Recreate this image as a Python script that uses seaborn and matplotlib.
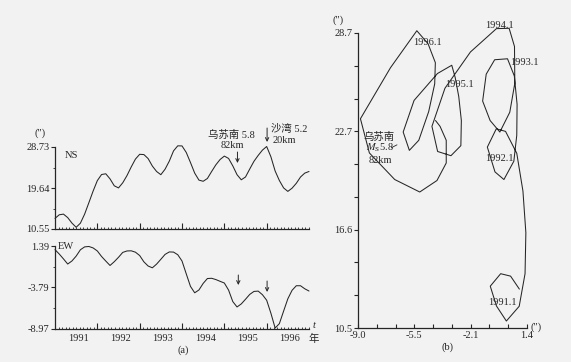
import numpy as np
import matplotlib
matplotlib.use('Agg')
import matplotlib.pyplot as plt
import seaborn as sns
from matplotlib.ticker import MultipleLocator, AutoMinorLocator

# time grid (years) and the two tilt components
years = np.round(np.arange(1991.0, 1997.01, 0.1), 1)
ns = [12.90, 13.70, 13.85, 13.08, 11.86, 10.93, 11.84, 13.85, 16.38, 18.95,
      21.28, 22.63, 22.79, 21.66, 20.13, 19.66, 20.79, 22.39, 24.30, 26.05,
      27.11, 27.05, 26.16, 24.50, 23.30, 22.59, 23.81, 25.60, 27.87, 28.99,
      28.97, 27.53, 25.29, 22.94, 21.39, 21.13, 21.75, 23.30, 24.78, 25.96,
      26.71, 26.20, 24.54, 22.59, 21.46, 22.08, 23.85, 25.56, 26.87, 28.04,
      28.84, 26.56, 23.41, 21.30, 19.66, 18.89, 19.60, 20.68, 22.08, 22.94, 23.30]
ew = [0.93, 0.39, -0.22, -0.86, -0.48, 0.13, 0.92, 1.28, 1.33, 1.15,
      0.77, 0.08, -0.49, -1.04, -0.57, -0.02, 0.59, 0.77, 0.79, 0.62,
      0.20, -0.59, -1.11, -1.33, -0.87, -0.27, 0.34, 0.65, 0.63, 0.30,
      -0.48, -2.08, -3.65, -4.45, -4.10, -3.28, -2.67, -2.64, -2.80, -3.02,
      -3.23, -4.11, -5.55, -6.22, -5.84, -5.26, -4.65, -4.28, -4.24, -4.69,
      -5.38, -7.00, -8.85, -8.30, -6.74, -5.20, -4.14, -3.57, -3.57, -3.95, -4.23]

year_labels = [1991, 1992, 1993, 1994, 1995, 1996]
ns_ticks = [10.55, 19.64, 28.73]
ew_ticks = [-8.97, -3.79, 1.39]
b_xticks = np.linspace(-9.0, 1.4, 10)
b_xlabels = ['-9.0', '', '', '-5.5', '', '', '-2.1', '', '', '1.4']
b_yticks = np.linspace(10.5, 28.7, 10)
b_ylabels = ['10.5', '', '', '16.6', '', '', '22.7', '', '', '28.7']

# labels along the trajectory in (b): (text, EW, NS)
traj_labels = [('1996.1', -5.62, 28.14), ('1995.1', -3.65, 25.55),
               ('1994.1', -1.18, 29.19), ('1993.1', 0.35, 26.91),
               ('1992.1', -1.18, 20.93), ('1991.1', -1.00, 12.10)]

sns.set_style('ticks')
plt.rcParams['font.family'] = ['Liberation Serif', 'Noto Sans CJK SC']
plt.rcParams['font.size'] = 7.5
plt.rcParams['mathtext.fontset'] = 'stix'

bg = '#f2f2f2'
ink = '#262626'
W, H = 571, 362

fig = plt.figure(figsize=(W / 100, H / 100), dpi=100, facecolor=bg)


def px(x, y):
    return x / W, 1 - y / H


ax_ns = fig.add_axes([55 / W, 1 - 229 / H, 254 / W, 82 / H])
ax_ew = fig.add_axes([55 / W, 1 - 329 / H, 254 / W, 83 / H])
ax_b = fig.add_axes([358 / W, 1 - 328 / H, 169 / W, 295 / H])

for ax in (ax_ns, ax_ew, ax_b):
    ax.set_facecolor(bg)
    sns.despine(ax=ax)
    for s in ('left', 'bottom'):
        ax.spines[s].set_color(ink)
        ax.spines[s].set_linewidth(0.9)
    ax.tick_params(colors=ink, width=0.8)

sns.lineplot(x=years, y=ns, ax=ax_ns, color=ink, lw=0.75)
sns.lineplot(x=years, y=ew, ax=ax_ew, color=ink, lw=0.75)
sns.lineplot(x=ew, y=ns, ax=ax_b, color=ink, lw=0.75, sort=False, estimator=None)
for ax in (ax_ns, ax_ew, ax_b):
    for l in ax.lines:
        l.set_clip_on(False)

# panel (a)
for ax, lim, ticks in ((ax_ns, (10.55, 28.73), ns_ticks), (ax_ew, (-8.97, 1.39), ew_ticks)):
    ax.set_xlim(1991, 1997)
    ax.set_ylim(*lim)
    ax.set_yticks(ticks)
    ax.set_yticklabels([f'{t:.2f}' for t in ticks])
    ax.yaxis.set_minor_locator(AutoMinorLocator(2))
    ax.set_xticks(range(1992, 1997))
    ax.xaxis.set_minor_locator(MultipleLocator(1 / 12))
    ax.tick_params(axis='x', which='major', direction='in', length=4, labelbottom=False)
    ax.tick_params(axis='x', which='minor', direction='in', length=1.5, width=0.6, colors=ink)
    ax.tick_params(axis='y', which='major', direction='out', length=3, pad=1)
    ax.tick_params(axis='y', which='minor', direction='out', length=1.5, width=0.6, colors=ink)
    ax.set_xlabel('')
    ax.set_ylabel('')

for y in year_labels:
    ax_ew.text(y + 0.55, -0.11, str(y), transform=ax_ew.get_xaxis_transform(),
               ha='center', va='center', color=ink)

ax_ns.text(0.04, 0.9, 'NS', transform=ax_ns.transAxes, ha='left', va='center', color=ink)
ax_ew.text(0.01, 0.99, 'EW', transform=ax_ew.transAxes, ha='left', va='center', color=ink)

arrow = dict(arrowstyle='->', color=ink, lw=0.7, shrinkA=0, shrinkB=0, mutation_scale=6)
ax_ns.annotate('', xy=(1995.31, 25.18), xytext=(1995.31, 27.62), arrowprops=arrow,
               annotation_clip=False)
ax_ns.annotate('', xy=(1996.01, 29.84), xytext=(1996.01, 32.94), arrowprops=arrow,
               annotation_clip=False)
ax_ew.annotate('', xy=(1995.33, -3.48), xytext=(1995.33, -2.23), arrowprops=arrow,
               annotation_clip=False)
ax_ew.annotate('', xy=(1996.01, -4.35), xytext=(1996.01, -2.98), arrowprops=arrow,
               annotation_clip=False)
ax_ns.text(1995.16, 31.39, '乌苏南 5.8', ha='center', va='center', color=ink, clip_on=False)
ax_ns.text(1995.19, 29.17, '82km', ha='center', va='center', color=ink, clip_on=False)
ax_ns.text(1996.10, 32.72, '沙湾 5.2', ha='left', va='center', color=ink, clip_on=False)
ax_ns.text(1996.13, 30.28, '20km', ha='left', va='center', color=ink, clip_on=False)

fig.text(*px(40, 133), '(″)', ha='center', va='center', color=ink)
fig.text(*px(314, 326), 't', ha='center', va='center', style='italic', color=ink)
fig.text(*px(314, 339), '年', ha='center', va='center', color=ink)
fig.text(*px(183, 350), '(a)', ha='center', va='center', color=ink)

# panel (b)
ax_b.set_xlim(-9.0, 1.4)
ax_b.set_ylim(10.5, 28.7)
ax_b.set_xticks(b_xticks)
ax_b.set_xticklabels(b_xlabels)
ax_b.set_yticks(b_yticks)
ax_b.set_yticklabels(b_ylabels)
ax_b.tick_params(axis='x', direction='in', length=3, pad=2)
ax_b.tick_params(axis='y', direction='out', length=3, pad=1)
ax_b.set_xlabel('')
ax_b.set_ylabel('')

for txt, x, y in traj_labels:
    ax_b.text(x, y, txt, ha='left', va='center', color=ink, clip_on=False)
ax_b.text(-7.71, 22.28, '乌苏南', ha='center', va='center', color=ink)
ax_b.text(-7.65, 21.60, r'$M_{\rm S}$5.8', ha='center', va='center', color=ink)
ax_b.text(-7.65, 20.86, '82km', ha='center', va='center', color=ink)
ax_b.plot([-6.95, -6.6], [21.62, 21.8], color=ink, lw=0.6)

fig.text(*px(338, 20), '(″)', ha='center', va='center', color=ink)
fig.text(*px(536, 327), '(″)', ha='center', va='center', color=ink)
fig.text(*px(447, 347), '(b)', ha='center', va='center', color=ink)

fig.savefig('out.png', dpi=100, facecolor=bg)
